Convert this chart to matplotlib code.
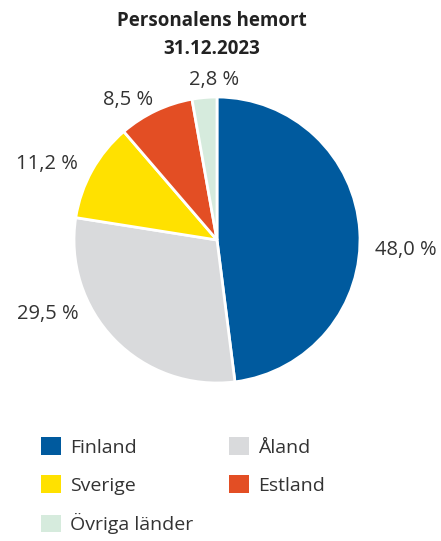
import matplotlib
matplotlib.use("Agg")
import matplotlib.pyplot as plt
from matplotlib.patches import Patch

plt.rcParams['font.family'] = ['Open Sans', 'DejaVu Sans']

categories = ["Finland", "Åland", "Sverige", "Estland", "Övriga länder"]
values = [48.0, 29.5, 11.2, 8.5, 2.8]
value_labels = ["48,0 %", "29,5 %", "11,2 %", "8,5 %", "2,8 %"]
colors = ["#005A9E", "#D9DADC", "#FFE100", "#E34E24", "#D6EBDD"]
title = "Personalens hemort\n31.12.2023"

W, H = 441, 541
fig = plt.figure(figsize=(W / 100, H / 100), dpi=100)

cx, cy, r = 217, 240, 143
ax = fig.add_axes([(cx - r) / W, (H - cy - r) / H, 2 * r / W, 2 * r / H])
ax.pie(values, colors=colors, startangle=90, counterclock=False,
       wedgeprops=dict(edgecolor="white", linewidth=2), radius=1.0)
ax.set_xlim(-1, 1)
ax.set_ylim(-1, 1)
ax.set_aspect("equal")
ax.axis("off")

# label positions (axes-unit coordinates) and alignment
label_pos = [(1.105, -0.07, "left"), (-0.97, -0.52, "right"), (-0.97, 0.53, "right"),
             (-0.62, 0.98, "center"), (-0.02, 1.12, "center")]
for lab, (x, y, ha) in zip(value_labels, label_pos):
    ax.text(x, y, lab, ha=ha, va="center", fontsize=14.5, color="#333333", clip_on=False)

fig.text(212 / W, 1 - 35 / H, title, ha="center", va="center", fontsize=13.5,
         fontweight="bold", color="#222222", linespacing=1.6)

handles = [Patch(facecolor=c, edgecolor="none") for c in colors]
order = [0, 2, 4, 1, 3]
leg = fig.legend([handles[i] for i in order], [categories[i] for i in order],
                 ncol=2, loc="upper left", bbox_to_anchor=(41 / W, 1 - 437 / H),
                 frameon=False, fontsize=14, handlelength=1.03, handleheight=1.03,
                 handletextpad=0.45, labelspacing=0.95, columnspacing=1.85,
                 labelcolor="#333333", borderpad=0, borderaxespad=0)

fig.savefig("out.png", dpi=100)
